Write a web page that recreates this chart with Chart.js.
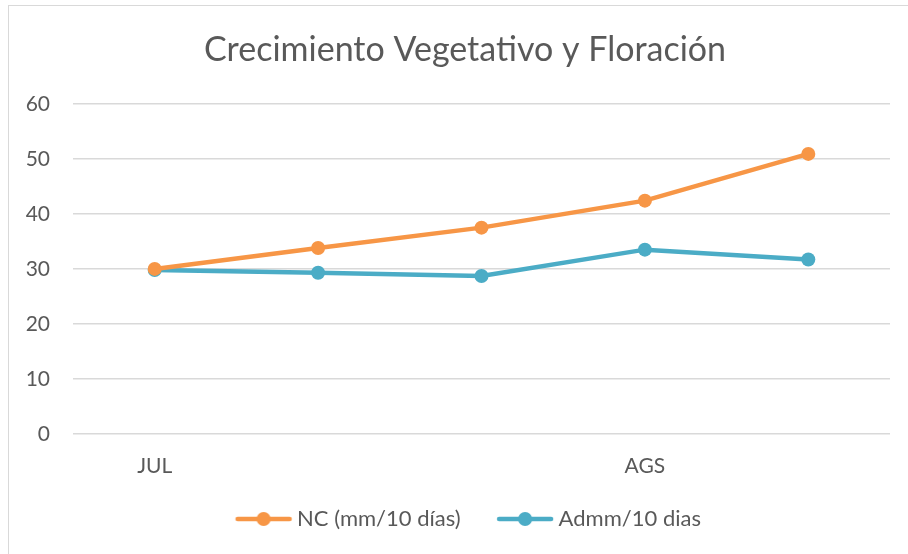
<!DOCTYPE html>
<html>
<head>
<meta charset="utf-8">
<script src="https://cdn.jsdelivr.net/npm/chart.js@4.4.0/dist/chart.umd.min.js"></script>
<style>
  html, body { margin: 0; padding: 0; background: #fff; overflow: hidden; }
  #wrap { position: relative; width: 908px; height: 554px; }
  #frame { position: absolute; left: 8px; top: 5px; width: 920px; height: 570px; border: 1.5px solid #d9d9d9; }
  canvas { position: absolute; left: 0; top: 0; }
</style>
</head>
<body>
<div id="wrap">
  <div id="frame"></div>
  <canvas id="growthChart" width="908" height="554"></canvas>
</div>
<script>
// data
const categories = ['JUL', '', '', 'AGS', ''];
const ncValues = [30, 33.8, 37.5, 42.4, 50.9];
const admmValues = [29.8, 29.3, 28.7, 33.5, 31.7];
const yTicks = [0, 10, 20, 30, 40, 50, 60];

const textColor = '#595959';
const orange = '#F79646';
const teal = '#4BACC6';
const fontFamily = 'Lato, "Open Sans", sans-serif';

// legend marker: short line with a dot in the middle (blank space on the left keeps the spacing)
function legendMarker(color) {
    const c = document.createElement('canvas');
    c.width = 104;
    c.height = 16;
    const ctx = c.getContext('2d');
    ctx.strokeStyle = color;
    ctx.lineWidth = 4.5;
    ctx.lineCap = 'round';
    ctx.beginPath();
    ctx.moveTo(42, 8);
    ctx.lineTo(94, 8);
    ctx.stroke();
    ctx.fillStyle = color;
    ctx.beginPath();
    ctx.arc(68, 8, 7, 0, Math.PI * 2);
    ctx.fill();
    return c;
}

const markers = [legendMarker(orange), legendMarker(teal)];

// title and legend sit a little right of the plot centre in the original
const shiftBlocks = {
    id: 'shiftBlocks',
    afterLayout(chart) {
        if (chart.titleBlock) chart.titleBlock.left += 40;
        if (chart.legend) chart.legend.left += 20;
    }
};

new Chart(document.getElementById('growthChart'), {
    type: 'line',
    data: {
        labels: categories,
        datasets: [
            {
                label: 'NC (mm/10 días)',
                data: ncValues,
                borderColor: orange,
                backgroundColor: orange,
                borderWidth: 4.5,
                pointRadius: 7,
                pointHoverRadius: 8,
                pointBorderWidth: 0,
                tension: 0
            },
            {
                label: 'Admm/10 dias',
                data: admmValues,
                borderColor: teal,
                backgroundColor: teal,
                borderWidth: 4.5,
                pointRadius: 7,
                pointHoverRadius: 8,
                pointBorderWidth: 0,
                tension: 0
            }
        ]
    },
    options: {
        responsive: false,
        animation: false,
        layout: { padding: { left: 0, right: 18, top: 0, bottom: 14 } },
        plugins: {
            title: {
                display: true,
                text: 'Crecimiento Vegetativo y Floración',
                color: textColor,
                font: { family: fontFamily, size: 34, weight: 'normal' },
                padding: { top: 30, bottom: 33 }
            },
            legend: {
                position: 'bottom',
                labels: {
                    color: textColor,
                    font: { family: fontFamily, size: 22 },
                    usePointStyle: true,
                    pointStyleWidth: 77,
                    boxHeight: 16,
                    padding: 10,
                    generateLabels: (chart) => {
                        const items = Chart.defaults.plugins.legend.labels.generateLabels(chart);
                        items.forEach((item, i) => { item.pointStyle = markers[i]; });
                        return items;
                    }
                }
            },
            tooltip: { enabled: true }
        },
        scales: {
            x: {
                offset: true,
                afterFit: (scale) => { scale.height = 64; },
                grid: { display: false, drawTicks: false },
                border: { display: false },
                ticks: {
                    color: textColor,
                    font: { family: fontFamily, size: 21 },
                    padding: 20,
                    maxRotation: 0,
                    autoSkip: false
                }
            },
            y: {
                min: 0,
                max: 60,
                afterFit: (scale) => { scale.width = 73; },
                afterBuildTicks: (scale) => { scale.ticks = yTicks.map(v => ({ value: v })); },
                grid: { color: '#d9d9d9', lineWidth: 1.5, drawTicks: false },
                border: { display: false },
                ticks: {
                    color: textColor,
                    font: { family: fontFamily, size: 21 },
                    padding: 23
                }
            }
        }
    },
    plugins: [shiftBlocks]
});
</script>
</body>
</html>
